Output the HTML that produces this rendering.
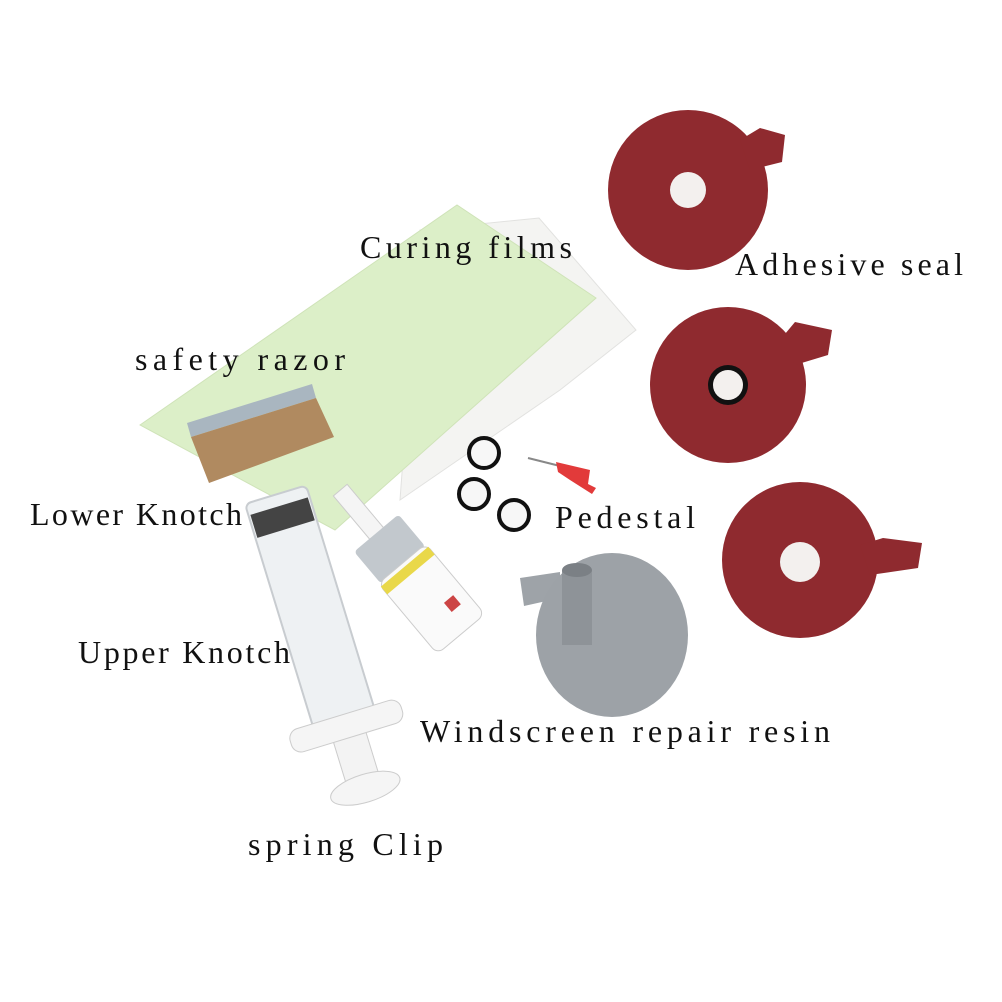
<!DOCTYPE html>
<html><head><style>
html,body{margin:0;padding:0;background:#fff;}
svg{display:block}
text{font-family:"Liberation Serif","DejaVu Serif",serif;font-size:32px;fill:#111;}
</style></head><body>
<svg width="1002" height="1002" viewBox="0 0 1002 1002">
<!-- white film -->
<polygon points="420,230 539,218 636,330 560,390 400,500" fill="#f4f4f2" stroke="#e2e2e0"/>
<!-- green cloth -->
<polygon points="140,425 457,205 596,298 335,530" fill="#dcefc8" stroke="#cfe3b8"/>
<!-- razor -->
<polygon points="187,423 312,384 316,398 191,437" fill="#a9b6c0"/>
<polygon points="191,437 316,398 334,437 209,483" fill="#b08a60"/>
<!-- syringe -->
<g transform="rotate(-17 320 640)">
<rect x="288" y="488" width="64" height="250" rx="6" fill="#eef1f3" stroke="#c8ccd0" stroke-width="2"/>
<rect x="290" y="500" width="60" height="24" fill="#444"/>
<rect x="303" y="738" width="34" height="52" fill="#f3f3f3" stroke="#ccc"/>
<ellipse cx="320" cy="795" rx="36" ry="14" fill="#f5f5f5" stroke="#ccc"/>
<rect x="262" y="718" width="116" height="24" rx="10" fill="#f5f5f5" stroke="#ccc"/>
</g>
<!-- resin bottle -->
<g transform="rotate(-40 425 560)">
<rect x="396" y="452" width="18" height="60" fill="#f5f5f5" stroke="#ccc"/>
<rect x="376" y="508" width="58" height="42" rx="4" fill="#c2c8cd"/>
<rect x="374" y="548" width="62" height="92" rx="8" fill="#fafafa" stroke="#ccc"/>
<rect x="374" y="552" width="62" height="10" fill="#e9d84a"/>
<rect x="412" y="605" width="12" height="12" fill="#c44"/>
</g>
<!-- rings -->
<g fill="#f7f7f7" stroke="#111" stroke-width="4">
<circle cx="484" cy="453" r="15"/><circle cx="474" cy="494" r="15"/><circle cx="514" cy="515" r="15"/>
</g>
<!-- pin -->
<line x1="528" y1="458" x2="560" y2="466" stroke="#888" stroke-width="2"/>
<polygon points="556,462 590,470 588,484 596,488 592,494 570,480 558,472" fill="#e23a3a"/>
<!-- pedestal -->
<polygon points="520,578 560,572 560,598 524,606" fill="#9ea3a8"/>
<ellipse cx="612" cy="635" rx="76" ry="82" fill="#9da2a7"/>
<rect x="562" y="570" width="30" height="75" fill="#8e9398"/>
<ellipse cx="577" cy="570" rx="15" ry="7" fill="#7b8085"/>
<!-- adhesive seals -->
<g fill="#8f2a2f">
<circle cx="688" cy="190" r="80"/><polygon points="740,140 760,128 785,135 782,162 750,170"/>
<circle cx="728" cy="385" r="78"/><polygon points="780,340 795,322 832,330 828,355 795,365"/>
<circle cx="800" cy="560" r="78"/><polygon points="860,545 883,538 922,543 918,568 870,575"/>
</g>
<circle cx="688" cy="190" r="18" fill="#f3f0ee"/>
<circle cx="728" cy="385" r="20" fill="#111"/><circle cx="728" cy="385" r="15" fill="#f3f0ee"/>
<circle cx="800" cy="562" r="20" fill="#f3f0ee"/>
<!-- labels -->
<text x="360" y="258" textLength="212" lengthAdjust="spacing">Curing films</text>
<text x="735" y="275" textLength="228" lengthAdjust="spacing">Adhesive seal</text>
<text x="135" y="370" textLength="210" lengthAdjust="spacing">safety razor</text>
<text x="30" y="525" textLength="212" lengthAdjust="spacing">Lower Knotch</text>
<text x="555" y="528" textLength="140" lengthAdjust="spacing">Pedestal</text>
<text x="78" y="663" textLength="212" lengthAdjust="spacing">Upper Knotch</text>
<text x="420" y="742" textLength="410" lengthAdjust="spacing">Windscreen repair resin</text>
<text x="248" y="855" textLength="195" lengthAdjust="spacing">spring Clip</text>
</svg>
</body></html>
